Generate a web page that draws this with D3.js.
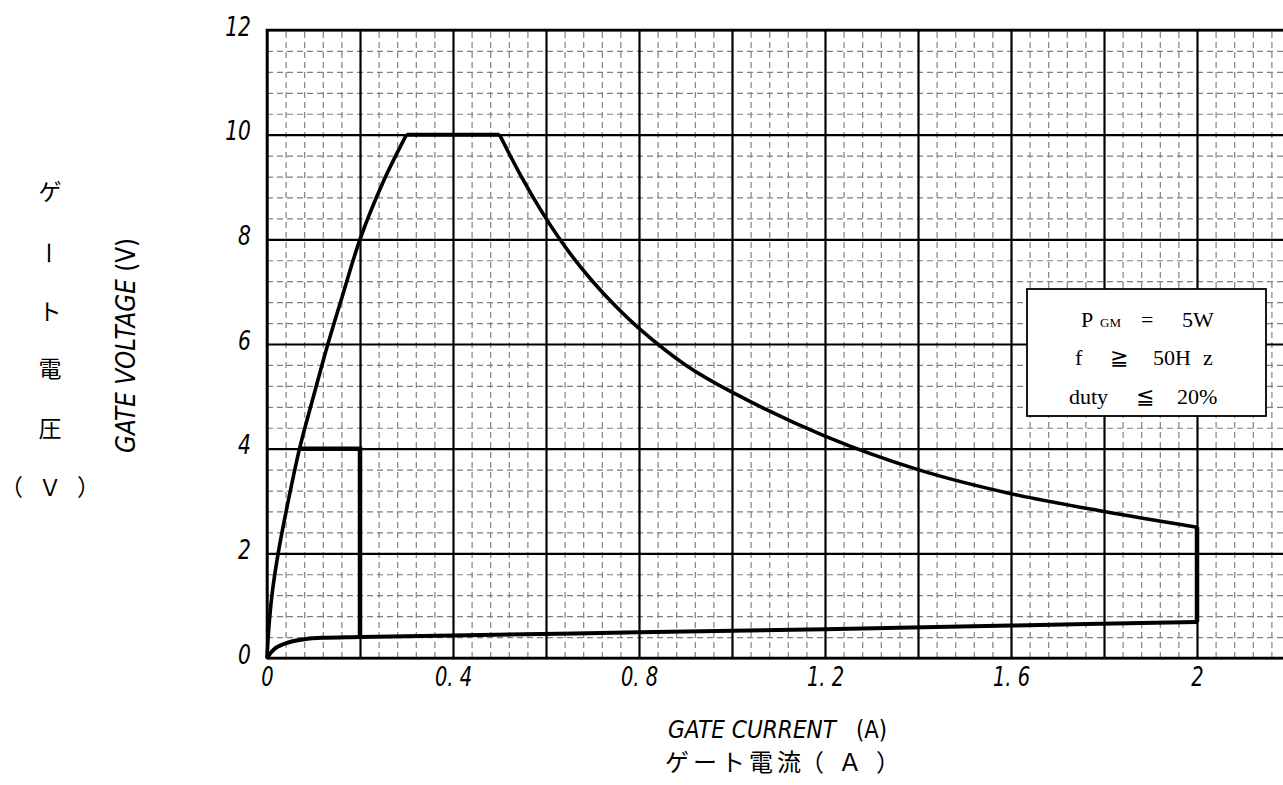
<!DOCTYPE html>
<html><head><meta charset="utf-8">
<script src="https://cdn.jsdelivr.net/npm/d3@7"></script>
<style>
html,body{margin:0;padding:0;background:#fff;}
svg{display:block;}
.tick text{font-family:"DejaVu Sans","Liberation Sans",sans-serif;font-style:italic;}
</style></head>
<body>
<svg id="c" width="1283" height="785"></svg>
<script>
// ---- data ----
const xTickValues = [0, 0.4, 0.8, 1.2, 1.6, 2];
const xTickLabels = ["0", "0. 4", "0. 8", "1. 2", "1. 6", "2"];
const yTickValues = [0, 2, 4, 6, 8, 10, 12];
const yTickLabels = ["0", "2", "4", "6", "8", "10", "12"];

// rising edge of the max gate voltage boundary (I [A], V [V])
const riseI = [0, 0.005, 0.012, 0.024, 0.04, 0.07, 0.1, 0.131, 0.165, 0.2, 0.25, 0.3];
const riseV = [0, 0.7, 1.3, 2.0, 2.75, 4.0, 5.0, 6.0, 7.0, 8.0, 9.1, 10.0];
// VGM = 10 V plateau
const plateauI = [0.3, 0.5];
const plateauV = [10, 10];
// PGM = 5 W boundary
const powerI = [0.5, 0.55, 0.6, 0.65, 0.7, 0.75, 0.8, 0.9, 1.0, 1.2, 1.4, 1.6, 1.8, 2.0];
const powerV = [10, 9.15, 8.4, 7.75, 7.2, 6.72, 6.3, 5.6, 5.08, 4.24, 3.6, 3.14, 2.8, 2.5];
// minimum gate characteristic + IGM edge
const lowI = [0, 0.01, 0.02, 0.04, 0.06, 0.08, 0.12, 0.2, 0.4, 0.8, 1.2, 1.6, 2.0];
const lowV = [0, 0.12, 0.2, 0.28, 0.33, 0.36, 0.385, 0.4, 0.43, 0.49, 0.55, 0.62, 0.69];
const edgeI = [2.0, 2.0];
const edgeV = [0.69, 2.5];
// trigger region rectangle (VGT 4 V, IGT 0.2 A)
const rectI = [0.07, 0.2, 0.2];
const rectV = [4, 4, 0.4];

// ---- chart ----
const svg = d3.select("#c");
const x = d3.scaleLinear().domain([0, 2.4]).range([267, 1383]);
const y = d3.scaleLinear().domain([0, 12]).range([658, 30]);
const x0 = x.range()[0], x1 = x.range()[1], y0 = y.range()[0], y1 = y.range()[1];

const grid = svg.append("g");
const minorX = d3.range(0, 2.4001, 0.04).filter(v => Math.abs(v / 0.2 - Math.round(v / 0.2)) > 1e-6);
const minorY = d3.range(0, 12.0001, 0.4).filter(v => Math.abs(v / 2 - Math.round(v / 2)) > 1e-6);
grid.append("g").attr("transform", `translate(0,${y0})`)
  .call(d3.axisBottom(x).tickValues(minorX).tickSize(-(y0 - y1)).tickFormat(""))
  .call(g => g.select(".domain").remove())
  .selectAll("line").attr("stroke", "#808080").attr("stroke-width", 1.2).attr("stroke-dasharray", "6,4");
grid.append("g").attr("transform", `translate(${x0},0)`)
  .call(d3.axisLeft(y).tickValues(minorY).tickSize(-(x1 - x0)).tickFormat(""))
  .call(g => g.select(".domain").remove())
  .selectAll("line").attr("stroke", "#808080").attr("stroke-width", 1.2).attr("stroke-dasharray", "6,4");
const majorX = d3.range(0, 2.4001, 0.2);
grid.append("g").attr("transform", `translate(0,${y0})`)
  .call(d3.axisBottom(x).tickValues(majorX).tickSize(-(y0 - y1)).tickFormat(""))
  .call(g => g.select(".domain").remove())
  .selectAll("line").attr("stroke", "#000").attr("stroke-width", 2.2);
grid.append("g").attr("transform", `translate(${x0},0)`)
  .call(d3.axisLeft(y).tickValues(yTickValues).tickSize(-(x1 - x0)).tickFormat(""))
  .call(g => g.select(".domain").remove())
  .selectAll("line").attr("stroke", "#000").attr("stroke-width", 2.2);
svg.append("path").attr("d", `M${x1},${y1}H${x0}V${y0}H${x1}`)
  .attr("fill", "none").attr("stroke", "#000").attr("stroke-width", 2.6);

// tick labels (condensed italic)
function condense(sel, f) {
  sel.each(function () {
    const w = this.getComputedTextLength();
    d3.select(this).attr("textLength", w * f).attr("lengthAdjust", "spacingAndGlyphs");
  });
}
const xa = svg.append("g").attr("transform", `translate(0,${y0})`)
  .call(d3.axisBottom(x).tickValues(xTickValues).tickSize(0).tickPadding(9)
    .tickFormat((d, i) => xTickLabels[i]));
xa.select(".domain").remove();
xa.selectAll("text").attr("font-size", 26).attr("fill", "#000").attr("dy", "0.72em").call(condense, 0.75);
const ya = svg.append("g").attr("transform", `translate(${x0},0)`)
  .call(d3.axisLeft(y).tickValues(yTickValues).tickSize(0).tickPadding(16)
    .tickFormat((d, i) => yTickLabels[i]));
ya.select(".domain").remove();
ya.selectAll("text").attr("font-size", 26).attr("fill", "#000").attr("dy", "0.2em").call(condense, 0.78);

// curves
const line = d3.line().x(d => x(d[0])).y(d => y(d[1]));
const curve = d3.line().x(d => x(d[0])).y(d => y(d[1])).curve(d3.curveCatmullRom.alpha(0.5));
const zip = (a, b) => a.map((v, i) => [v, b[i]]);
svg.append("path").attr("d", curve(zip(riseI, riseV)))
  .attr("fill", "none").attr("stroke", "#000").attr("stroke-width", 3.6);
svg.append("path").attr("d", line(zip(plateauI, plateauV)))
  .attr("fill", "none").attr("stroke", "#000").attr("stroke-width", 4);
svg.append("path").attr("d", curve(zip(powerI, powerV)))
  .attr("fill", "none").attr("stroke", "#000").attr("stroke-width", 3.6);
svg.append("path").attr("d", curve(zip(lowI, lowV)))
  .attr("fill", "none").attr("stroke", "#000").attr("stroke-width", 4);
svg.append("path").attr("d", line(zip(edgeI, edgeV)))
  .attr("fill", "none").attr("stroke", "#000").attr("stroke-width", 4.5);
svg.append("path").attr("d", line(zip(rectI, rectV)))
  .attr("fill", "none").attr("stroke", "#000").attr("stroke-width", 4.5);

// note box
const box = svg.append("g");
box.append("rect").attr("x", 1027).attr("y", 289).attr("width", 239).attr("height", 127)
  .attr("fill", "#fff").attr("stroke", "#000").attr("stroke-width", 1.8);
const serif = '"Liberation Serif","DejaVu Serif",serif';
const t1 = box.append("text").attr("y", 327).attr("font-family", serif).attr("font-size", 22).attr("fill", "#000");
t1.append("tspan").attr("x", 1081).text("P");
t1.append("tspan").attr("x", 1100).attr("font-size", 13).text("GM");
t1.append("tspan").attr("x", 1141).text("=");
t1.append("tspan").attr("x", 1182).text("5W");
const t2 = box.append("text").attr("y", 365).attr("font-family", serif).attr("font-size", 22).attr("fill", "#000");
t2.append("tspan").attr("x", 1075).text("f");
t2.append("tspan").attr("x", 1110).text("≧");
t2.append("tspan").attr("x", 1153).text("50H");
t2.append("tspan").attr("x", 1203).text("z");
const t3 = box.append("text").attr("y", 404).attr("font-family", serif).attr("font-size", 22).attr("fill", "#000");
t3.append("tspan").attr("x", 1069).text("duty");
t3.append("tspan").attr("x", 1136).text("≦");
t3.append("tspan").attr("x", 1177).text("20%");

// axis titles
const cjk = '"Noto Sans CJK JP","Noto Sans",sans-serif';
const sans = '"DejaVu Sans","Liberation Sans",sans-serif';
svg.append("text").attr("transform", "translate(668,738) scale(1,1.15)").attr("font-family", sans)
  .attr("font-style", "italic").attr("font-size", 22).attr("fill", "#000")
  .attr("textLength", 168).attr("lengthAdjust", "spacingAndGlyphs").text("GATE CURRENT");
svg.append("text").attr("transform", "translate(856,738) scale(1,1.15)").attr("font-family", sans)
  .attr("font-size", 22).attr("fill", "#000")
  .attr("textLength", 31).attr("lengthAdjust", "spacingAndGlyphs").text("(A)");
svg.append("text").attr("x", 665).attr("y", 771)
  .attr("font-family", cjk).attr("font-size", 24).attr("fill", "#000")
  .attr("textLength", 136).attr("lengthAdjust", "spacing").text("ゲート電流");
svg.append("text").attr("x", 800).attr("y", 771)
  .attr("font-family", cjk).attr("font-size", 24).attr("fill", "#000")
  .attr("textLength", 100).attr("lengthAdjust", "spacing").text("（Ａ）");

const yt = svg.append("text").attr("transform", "translate(135,453) rotate(-90)")
  .attr("font-family", sans).attr("font-size", 27).attr("fill", "#000")
  .attr("textLength", 215).attr("lengthAdjust", "spacingAndGlyphs");
yt.append("tspan").attr("font-style", "italic").text("GATE VOLTAGE ");
yt.append("tspan").text("(V)");

const vChars = [["ゲ", 190], ["ー", 253], ["ト", 310], ["電", 367], ["圧", 427]];
vChars.forEach(([c, yy]) => {
  const t = svg.append("text").attr("font-family", cjk).attr("font-size", 23).attr("fill", "#000")
    .attr("text-anchor", "middle").attr("dominant-baseline", "central").text(c);
  if (c === "ー") t.attr("transform", `translate(50,${yy}) rotate(90)`);
  else t.attr("x", 50).attr("y", yy);
});
svg.append("text").attr("x", 0).attr("y", 486).attr("font-family", cjk).attr("font-size", 23)
  .attr("fill", "#000").attr("dominant-baseline", "central")
  .attr("textLength", 100).attr("lengthAdjust", "spacing").text("（Ｖ）");
</script>
</body></html>
